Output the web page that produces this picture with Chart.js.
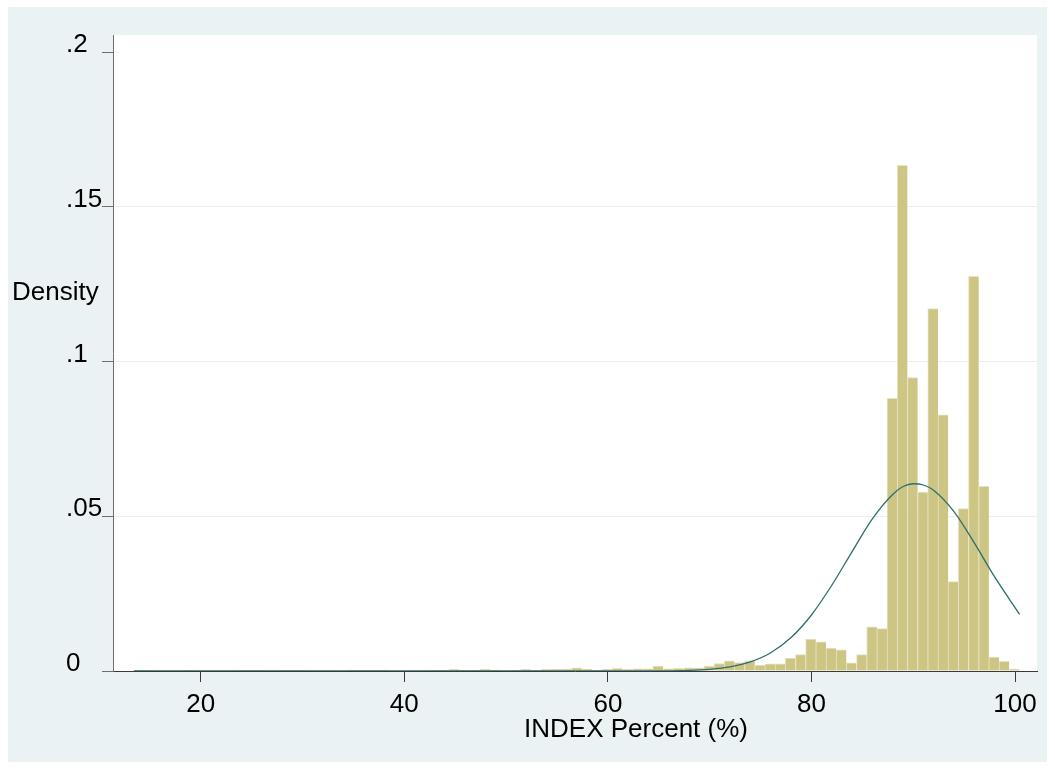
<!DOCTYPE html>
<html><head><meta charset="utf-8">
<script src="https://cdn.jsdelivr.net/npm/chart.js@4"></script>
<style>
html,body{margin:0;padding:0;background:#ffffff;}
#frame{position:absolute;left:8px;top:7px;width:1039px;height:755px;background:#eaf2f3;}
canvas{display:block;}
</style></head><body>
<div id="frame"><canvas id="c" width="1039" height="755"></canvas></div>
<script>
// ---- data ----
const binStart = 13.43;      // left edge of first bin (INDEX Percent)
const binWidth = 1;          // bin width
const binDensity = [
  0.0003,0.0002,0.0001,0.0001,0.0001,0.0002,0.0001,0.0001,0.0001,0.0001,
  0.0002,0.0002,0.0002,0.0001,0.0002,0.0002,0.0002,0.0001,0.0001,0.0001,
  0,     0.0002,0.0002,0.0002,0.0002,0,     0,     0.0001,0.0001,0.0002,
  0.0002,0.0005,0.0002,0.0002,0.0005,0.0002,0,     0.0002,0.0005,0.0003,
  0.0005,0.0006,0.0006,0.0010,0.0006,0.0002,0.0005,0.0009,0.0005,0.0007,
  0.0007,0.0016,0.0007,0.0009,0.0010,0.0010,0.0016,0.0024,0.0033,0.0027,
  0.0033,0.0019,0.0023,0.0023,0.0042,0.0053,0.0103,0.0094,0.0074,0.0068,
  0.0026,0.0053,0.0143,0.0137,0.0881,0.1634,0.0948,0.0578,0.1171,0.0828,
  0.0289,0.0525,0.1275,0.0597,0.0045,0.0031,0.0006
];
// normal density overlay
const curveX = [13.43, 40, 55, 60, 65, 68, 70, 72, 74, 76, 78, 80, 82, 84, 86, 88, 89, 90, 91, 92, 94, 96, 98, 100.45];
const curveY = [0, 0, 0, 0.000002, 0.00004, 0.0002, 0.00055, 0.00132, 0.00292, 0.00588, 0.0108, 0.0181, 0.0277, 0.0386, 0.0492, 0.0571, 0.0596, 0.0605, 0.0601, 0.0584, 0.0515, 0.0414, 0.0304, 0.0183];
const xTickValues = [20, 40, 60, 80, 100];
const yTickValues = [0, 0.05, 0.1, 0.15, 0.2];
const yTickLabels = ['0', '.05', '.1', '.15', '.2'];
const xTitle = 'INDEX Percent (%)';
const yTitle = 'Density';

const FONT = '"Liberation Sans", Arial, Helvetica, sans-serif';
Chart.defaults.font.family = FONT;
Chart.defaults.font.size = 26;
Chart.defaults.color = '#000';

const decor = {
  id: 'decor',
  beforeDraw(chart) {
    const {ctx, chartArea: a} = chart;
    ctx.save();
    ctx.fillStyle = '#ffffff';
    ctx.fillRect(a.left, a.top, a.right - a.left, a.bottom - a.top);
    ctx.restore();
  },
  afterDraw(chart) {
    const ctx = chart.ctx;
    ctx.save();
    ctx.fillStyle = '#000';
    ctx.font = '26px ' + FONT;
    ctx.textBaseline = 'middle';
    ctx.textAlign = 'left';
    ctx.fillText(yTitle, 4, 286);
    ctx.textAlign = 'center';
    ctx.fillText(xTitle, 628, 723);
    ctx.restore();
  }
};

new Chart(document.getElementById('c'), {
  type: 'bar',
  data: {
    datasets: [
      {
        type: 'line',
        data: curveX.map((x, i) => ({x: x, y: curveY[i]})),
        borderColor: '#2d6f6c',
        borderWidth: 1.3,
        pointRadius: 0,
        fill: false,
        cubicInterpolationMode: 'monotone',
        order: 0
      },
      {
        type: 'bar',
        data: binDensity.map((v, i) => ({x: binStart + binWidth * (i + 0.5), y: v})),
        backgroundColor: '#cdc584',
        borderColor: '#e6e2c2',
        borderWidth: {top: 1, left: 1, right: 0, bottom: 0},
        borderSkipped: 'start',
        barPercentage: 1,
        categoryPercentage: 1,
        grouped: false,
        order: 1
      }
    ]
  },
  options: {
    responsive: false,
    animation: false,
    layout: {padding: {left: 58, top: 28, right: 10, bottom: 0}},
    plugins: {legend: {display: false}, tooltip: {enabled: false}},
    scales: {
      x: {
        type: 'linear',
        offset: false,
        min: 11.38,
        max: 102.16,
        afterBuildTicks: s => { s.ticks = xTickValues.map(v => ({value: v})); },
        afterFit: s => { s.height = 91; },
        ticks: {
          callback: v => String(v),
          padding: 7,
          maxRotation: 0,
          autoSkip: false,
          color: '#000'
        },
        grid: {offset: false, drawOnChartArea: false, drawTicks: true, tickLength: 11, tickColor: '#3a3a3a'},
        border: {display: true, color: '#3a3a3a', width: 1}
      },
      y: {
        type: 'linear',
        min: 0,
        max: 0.2055,
        afterBuildTicks: s => { s.ticks = yTickValues.map(v => ({value: v})); },
        afterFit: s => { s.width = 47; },
        ticks: {
          callback: (v, i) => yTickLabels[i],
          crossAlign: 'far',
          labelOffset: -7,
          padding: 4,
          autoSkip: false,
          color: '#000'
        },
        grid: {
          drawOnChartArea: true,
          drawTicks: true,
          tickLength: 11,
          tickColor: '#6e6e6e',
          lineWidth: 1,
          color: c => (c.tick && (c.tick.value === 0 || c.tick.value === 0.2)) ? 'rgba(0,0,0,0)' : '#eeeeee'
        },
        border: {display: true, color: '#6e6e6e', width: 1}
      }
    }
  },
  plugins: [decor]
});
</script></body></html>
